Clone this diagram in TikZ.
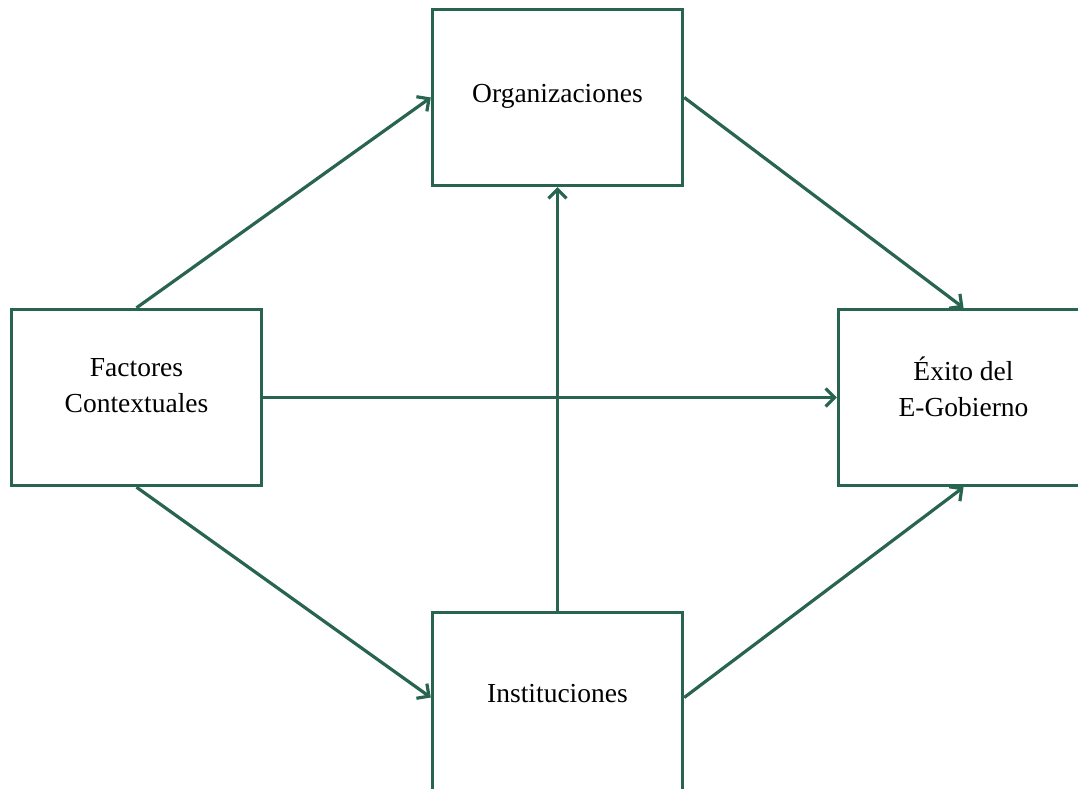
\documentclass[tikz,border=0pt]{standalone}
\usepackage{fontspec}
\setmainfont{Liberation Serif}
\usetikzlibrary{arrows.meta}
\definecolor{dgreen}{RGB}{40,100,80}
\begin{document}
\begin{tikzpicture}[x=1pt,y=-1pt,
  box/.style={draw=dgreen, line width=3.4pt, minimum width=250pt, minimum height=176pt,
    inner sep=0pt, align=center, font=\fontsize{27.5}{36.5}\selectfont},
  conn/.style={draw=dgreen, line width=3.2pt, -{Straight Barb[length=9pt,width=18pt,line width=3.2pt]}}]
\useasboundingbox (0,0) rectangle (1078,789);
\clip (0,0) rectangle (1078,789);
\node[box, text height=19pt, text depth=9pt] (org) at (557.5,97.5) {Organizaciones};
\node[box, text depth=24pt] (fac) at (136.5,397.5) {Factores\\Contextuales};
\node[box, text depth=22pt] (exi) at (963.5,397.5) {Éxito del\\E-Gobierno};
\node[box, minimum height=186pt, text height=19pt, text depth=25pt] (ins) at (557.5,705.5) {Instituciones};
\draw[conn] (fac.north) -- (org.west);
\draw[conn] (org.east) -- (exi.north);
\draw[conn] (fac.east) -- (exi.west);
\draw[conn] (fac.south) -- ([yshift=8pt]ins.west);
\draw[conn] (ins.north) -- (org.south);
\draw[conn] ([yshift=8pt]ins.east) -- (exi.south);
\end{tikzpicture}
\end{document}
